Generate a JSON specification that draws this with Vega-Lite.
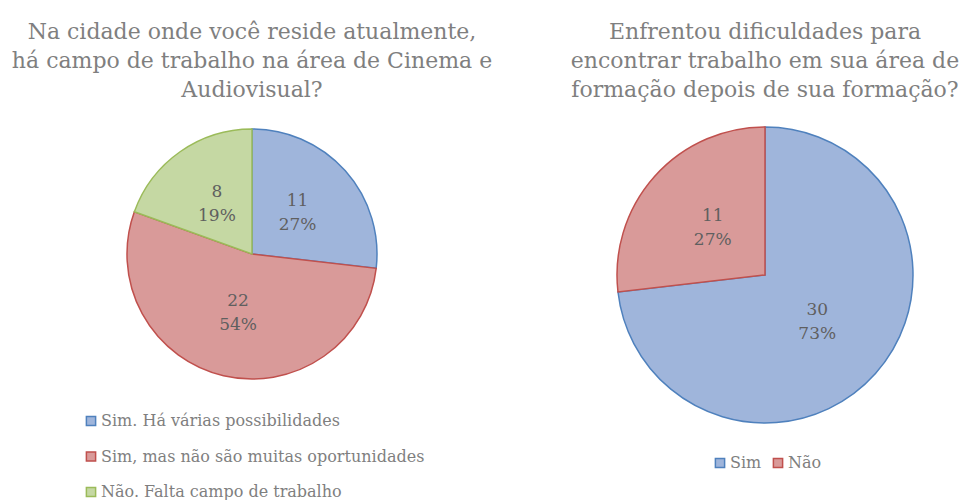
{
  "$schema": "https://vega.github.io/schema/vega-lite/v6.json",
  "padding": {"top": 21, "left": 0, "right": 0, "bottom": 0},
  "background": "white",
  "spacing": 0,
  "datasets": {
    "cidade": [
      {"resposta": "Sim. Há várias possibilidades", "n": 11, "pct": "27%", "ordem": 1},
      {"resposta": "Sim, mas não são muitas oportunidades", "n": 22, "pct": "54%", "ordem": 2},
      {"resposta": "Não. Falta campo de trabalho", "n": 8, "pct": "19%", "ordem": 3}
    ],
    "dificuldade": [
      {"resposta": "Sim", "n": 30, "pct": "73%", "ordem": 1},
      {"resposta": "Não", "n": 11, "pct": "27%", "ordem": 2}
    ]
  },
  "config": {
    "view": {"stroke": null},
    "title": {"font": "DejaVu Serif", "fontSize": 22, "fontWeight": "normal", "color": "#7f7f7f", "lineHeight": 29, "anchor": "middle", "offset": 13},
    "legend": {"labelFont": "DejaVu Serif", "labelFontSize": 16, "labelColor": "#7f7f7f", "symbolType": "square", "symbolSize": 85, "symbolStrokeWidth": 1.5, "labelOffset": 2, "title": null}
  },
  "hconcat": [
    {
      "width": 504,
      "height": 278,
      "title": {"text": ["Na cidade onde você reside atualmente,", "há campo de trabalho na área de Cinema e", "Audiovisual?"]},
      "data": {"name": "cidade"},
      "encoding": {
        "theta": {"field": "n", "type": "quantitative", "stack": true},
        "order": {"field": "ordem", "type": "quantitative"}
      },
      "layer": [
        {
          "mark": {"type": "arc", "radius": 125, "strokeWidth": 1.5},
          "encoding": {
            "color": {"field": "resposta", "type": "nominal",
              "scale": {"domain": ["Sim. Há várias possibilidades", "Sim, mas não são muitas oportunidades", "Não. Falta campo de trabalho"], "range": ["#9fb5db", "#d99a99", "#c5d8a3"]},
              "legend": {"orient": "none", "legendX": 83, "legendY": 298, "direction": "vertical", "rowPadding": 19.5, "labelLimit": 500}},
            "stroke": {"field": "resposta", "type": "nominal",
              "scale": {"domain": ["Sim. Há várias possibilidades", "Sim, mas não são muitas oportunidades", "Não. Falta campo de trabalho"], "range": ["#4f81bd", "#c0504d", "#9bbb59"]},
              "legend": null}
          }
        },
        {
          "mark": {"type": "text", "radius": 61, "dy": -12, "font": "DejaVu Serif", "fontSize": 17, "color": "#5f5f5f"},
          "encoding": {"text": {"field": "n", "type": "quantitative"}}
        },
        {
          "mark": {"type": "text", "radius": 61, "dy": 12, "font": "DejaVu Serif", "fontSize": 17, "color": "#5f5f5f"},
          "encoding": {"text": {"field": "pct", "type": "nominal"}}
        }
      ]
    },
    {
      "width": 522,
      "height": 320,
      "title": {"text": ["Enfrentou dificuldades para", "encontrar trabalho em sua área de", "formação depois de sua formação?"]},
      "data": {"name": "dificuldade"},
      "encoding": {
        "theta": {"field": "n", "type": "quantitative", "stack": true},
        "order": {"field": "ordem", "type": "quantitative"}
      },
      "layer": [
        {
          "mark": {"type": "arc", "radius": 148, "strokeWidth": 1.5},
          "encoding": {
            "color": {"field": "resposta", "type": "nominal",
              "scale": {"domain": ["Sim", "Não"], "range": ["#9fb5db", "#d99a99"]},
              "legend": {"orient": "none", "legendX": 208, "legendY": 340, "direction": "horizontal", "columnPadding": 8}},
            "stroke": {"field": "resposta", "type": "nominal",
              "scale": {"domain": ["Sim", "Não"], "range": ["#4f81bd", "#c0504d"]},
              "legend": null}
          }
        },
        {
          "mark": {"type": "text", "radius": 70, "dy": -12, "font": "DejaVu Serif", "fontSize": 17, "color": "#5f5f5f"},
          "encoding": {"text": {"field": "n", "type": "quantitative"}}
        },
        {
          "mark": {"type": "text", "radius": 70, "dy": 12, "font": "DejaVu Serif", "fontSize": 17, "color": "#5f5f5f"},
          "encoding": {"text": {"field": "pct", "type": "nominal"}}
        }
      ]
    }
  ],
  "resolve": {"scale": {"color": "independent", "stroke": "independent", "theta": "independent"}, "legend": {"color": "independent"}}
}
